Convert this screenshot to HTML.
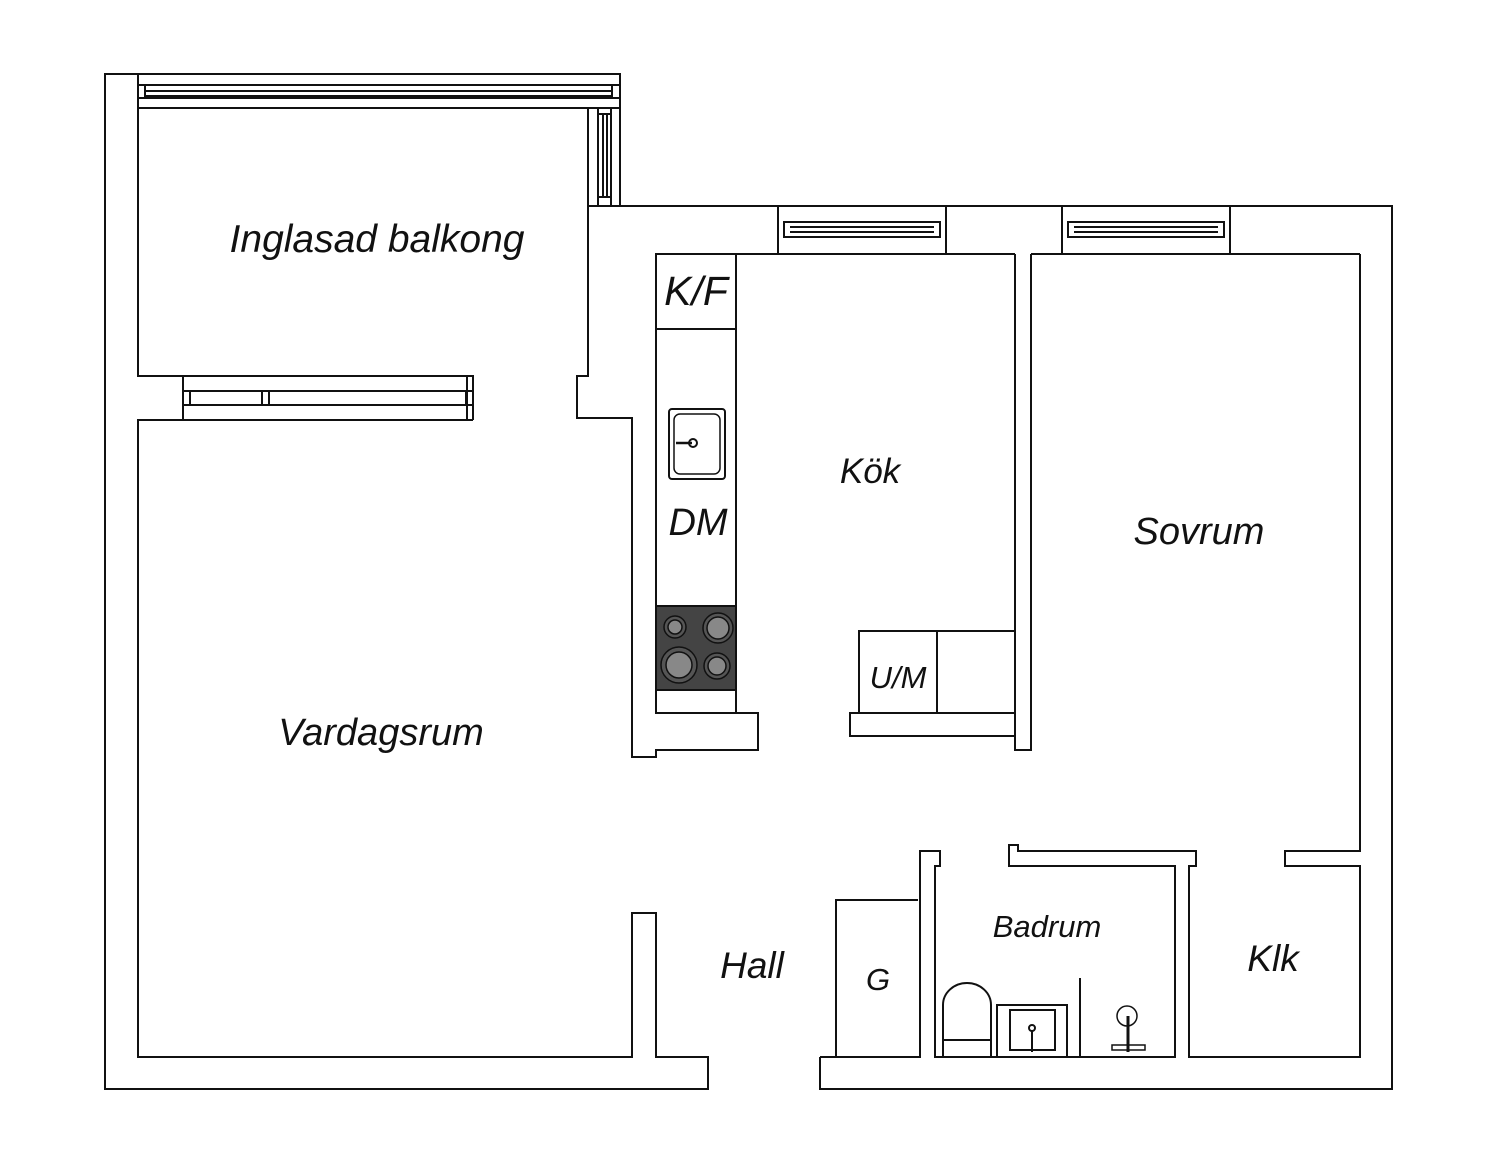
<!DOCTYPE html>
<html><head><meta charset="utf-8"><style>
html,body{margin:0;padding:0;background:#fff;}
svg{display:block;}
text{font-family:"Liberation Sans",sans-serif;font-style:italic;fill:#111;}
</style></head><body>
<svg width="1500" height="1172" viewBox="0 0 1500 1172" xmlns="http://www.w3.org/2000/svg">
<g fill="none" stroke="#111" stroke-width="2">
<polyline points="138,74 105,74 105,1089 708,1089 708,1057 656,1057 656,913 632,913 632,1057 138,1057 138,420 183,420"/>
<polyline points="473,420 473,376 183,376 183,420 473,420"/>
<line x1="183" y1="391" x2="473" y2="391"/>
<line x1="183" y1="405" x2="473" y2="405"/>
<line x1="190" y1="391" x2="190" y2="405"/>
<line x1="262" y1="391" x2="262" y2="405"/>
<line x1="269" y1="391" x2="269" y2="405"/>
<line x1="466" y1="391" x2="466" y2="405"/>
<line x1="467" y1="376" x2="467" y2="420"/>
<rect x="138" y="74" width="482" height="34"/>
<line x1="138" y1="85" x2="620" y2="85"/>
<line x1="145" y1="91" x2="612" y2="91"/>
<line x1="145" y1="96" x2="612" y2="96"/>
<line x1="138" y1="98" x2="620" y2="98"/>
<line x1="145" y1="85" x2="145" y2="98"/>
<line x1="612" y1="85" x2="612" y2="98"/>
<polyline points="138,108 138,376 183,376"/>
<polyline points="588,108 588,376 577,376 577,418 632,418 632,757 656,757 656,750 758,750 758,713 656,713"/>
<line x1="620" y1="108" x2="620" y2="206"/>
<line x1="598" y1="108" x2="598" y2="206"/>
<line x1="611" y1="108" x2="611" y2="206"/>
<line x1="603" y1="114" x2="603" y2="197"/>
<line x1="607" y1="114" x2="607" y2="197"/>
<line x1="598" y1="114" x2="611" y2="114"/>
<line x1="598" y1="197" x2="611" y2="197"/>
<polyline points="588,206 1392,206 1392,1089 820,1089 820,1057"/>
<rect x="778" y="206" width="168" height="48"/>
<rect x="784" y="222" width="156" height="15"/>
<line x1="790" y1="227" x2="934" y2="227"/>
<line x1="790" y1="232" x2="934" y2="232"/>
<rect x="1062" y="206" width="168" height="48"/>
<rect x="1068" y="222" width="156" height="15"/>
<line x1="1074" y1="227" x2="1218" y2="227"/>
<line x1="1074" y1="232" x2="1218" y2="232"/>
<line x1="656" y1="254" x2="778" y2="254"/>
<line x1="946" y1="254" x2="1015" y2="254"/>
<line x1="1031" y1="254" x2="1062" y2="254"/>
<line x1="1230" y1="254" x2="1360" y2="254"/>
<rect x="656" y="254" width="80" height="459"/>
<line x1="656" y1="329" x2="736" y2="329"/>
<polyline points="1015,254 1015,750 1031,750 1031,254"/>
<polyline points="1015,736 850,736 850,713 1015,713"/>
<rect x="859" y="631" width="78" height="82"/>
<rect x="937" y="631" width="78" height="82"/>
<polyline points="1360,254 1360,851 1285,851 1285,866 1360,866 1360,1057 1189,1057 1189,866 1196,866 1196,851 1018,851 1018,845 1009,845 1009,866 1175,866 1175,1057 935,1057 935,866 940,866 940,851 920,851 920,1057 820,1057"/>
<polyline points="836,1057 836,900 918,900"/>
<rect x="669" y="409" width="56" height="70" rx="3"/>
<rect x="674" y="414" width="46" height="60" rx="6" stroke-width="1.5"/>
<line x1="676" y1="443" x2="692" y2="443" stroke-width="2.5"/>
<circle cx="693" cy="443" r="4"/>
<path d="M943,1057 V1005 A24,22 0 0 1 991,1005 V1057"/>
<line x1="943" y1="1040" x2="991" y2="1040"/>
<rect x="997" y="1005" width="70" height="52"/>
<rect x="1010" y="1010" width="45" height="40"/>
<line x1="1032" y1="1030" x2="1032" y2="1052"/>
<circle cx="1032" cy="1028" r="3"/>
<line x1="1080" y1="978" x2="1080" y2="1057"/>
<circle cx="1127" cy="1016" r="10" stroke-width="1.5"/>
<line x1="1128" y1="1016" x2="1128" y2="1052" stroke-width="3"/>
<rect x="1112" y="1045" width="33" height="5" stroke-width="1.5"/>
</g>
<rect x="656" y="606" width="80" height="84" fill="#444" stroke="#111" stroke-width="2"/>
<g stroke="#111" stroke-width="1.5" fill="#888">
<circle cx="675" cy="627" r="11" fill="#555"/><circle cx="675" cy="627" r="7"/>
<circle cx="718" cy="628" r="15" fill="#555"/><circle cx="718" cy="628" r="11"/>
<circle cx="679" cy="665" r="18" fill="#555"/><circle cx="679" cy="665" r="13"/>
<circle cx="717" cy="666" r="13" fill="#555"/><circle cx="717" cy="666" r="9"/>
</g>
<text x="377" y="252" font-size="39" text-anchor="middle">Inglasad balkong</text>
<text x="696" y="305" font-size="41" text-anchor="middle">K/F</text>
<text x="698" y="535" font-size="38" text-anchor="middle">DM</text>
<text x="870" y="483" font-size="35" text-anchor="middle">Kök</text>
<text x="898" y="688" font-size="31" text-anchor="middle">U/M</text>
<text x="1199" y="544" font-size="38" text-anchor="middle">Sovrum</text>
<text x="381" y="745" font-size="38" text-anchor="middle">Vardagsrum</text>
<text x="752" y="978" font-size="37" text-anchor="middle">Hall</text>
<text x="878" y="990" font-size="31" text-anchor="middle">G</text>
<text x="1047" y="937" font-size="31" text-anchor="middle">Badrum</text>
<text x="1273" y="971" font-size="37" text-anchor="middle">Klk</text>
</svg>
</body></html>
